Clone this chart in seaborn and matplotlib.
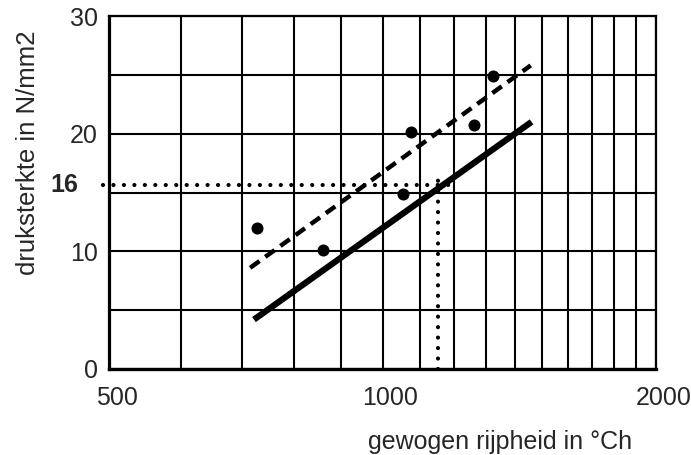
import matplotlib
matplotlib.use("Agg")
import matplotlib.pyplot as plt
import matplotlib.transforms as mtransforms
from matplotlib.ticker import FixedLocator, NullFormatter
import numpy as np
import pandas as pd
import seaborn as sns

# ---- data ----
meas_x = [727, 861, 1054, 1076, 1261, 1322]
meas_y = [12.0, 10.1, 14.9, 20.1, 20.7, 24.9]

dashed_x = [715, 1456]
dashed_y = [8.6, 25.8]

solid_x = [722, 1459]
solid_y = [4.2, 21.0]

ref_h_x = [492, 1186]
ref_h_y = [15.6, 15.6]
ref_v_x = [1151, 1151]
ref_v_y = [0.0, 16.1]
ref_label = "16"

x_major = [500, 1000, 2000]
x_minor = list(range(600, 2000, 100))
y_major = [0, 10, 20, 30]
y_minor = [5, 15, 25]

x_title = "gewogen rijpheid in °Ch"
y_title = "druksterkte in N/mm2"

# ---- figure ----
sns.set_style("white")
plt.rcParams["font.family"] = ["Liberation Sans", "DejaVu Sans"]

fig = plt.figure(figsize=(6.91, 4.55), dpi=100)
ax = fig.add_axes([109 / 691, 1 - 369 / 455, (656 - 109) / 691, (369 - 16) / 455])

ax.set_xscale("log")
ax.set_xlim(500, 2000)
ax.set_ylim(0, 30)

ax.xaxis.set_major_locator(FixedLocator(x_major))
ax.xaxis.set_minor_locator(FixedLocator(x_minor))
ax.set_xticklabels([str(v) for v in x_major])
ax.xaxis.set_minor_formatter(NullFormatter())
ax.yaxis.set_major_locator(FixedLocator(y_major))
ax.yaxis.set_minor_locator(FixedLocator(y_minor))
ax.set_yticklabels([str(v) for v in y_major])

ax.grid(True, which="both", color="black", linewidth=1.5)
ax.set_axisbelow(True)
ax.tick_params(which="both", length=0)
ax.tick_params(axis="x", labelsize=18, pad=12)
ax.tick_params(axis="y", labelsize=18, pad=8)
for sp in ax.spines.values():
    sp.set_color("black")
    sp.set_linewidth(1.6)
    sp.set_zorder(5)
ax.spines["left"].set_linewidth(2.3)
ax.spines["bottom"].set_linewidth(2.4)

# shift x tick labels slightly right as in reference
offset = mtransforms.ScaledTranslation(8 / 100, 0, fig.dpi_scale_trans)
for lab in ax.get_xticklabels():
    lab.set_transform(lab.get_transform() + offset)

line_kw = dict(ax=ax, color="black", estimator=None, sort=False)

# reference dotted lines
sns.lineplot(x=ref_h_x, y=ref_h_y, linewidth=3,
             linestyle=(0, (0.01, 2.5)), dash_capstyle="round", **line_kw)
ax.lines[-1].set_clip_on(False)
ax.lines[-1].set_zorder(6)
sns.lineplot(x=ref_v_x, y=ref_v_y, linewidth=3,
             linestyle=(0, (0.01, 2.5)), dash_capstyle="round", **line_kw)
ax.lines[-1].set_zorder(6)

# fitted lines
sns.lineplot(x=dashed_x, y=dashed_y, linewidth=3.2,
             linestyle=(0, (2.6, 1.6)), dash_capstyle="butt", **line_kw)
ax.lines[-1].set_zorder(6)
sns.lineplot(x=solid_x, y=solid_y, linewidth=4.5,
             solid_capstyle="butt", **line_kw)
ax.lines[-1].set_zorder(6)

# measurements
sns.scatterplot(x=meas_x, y=meas_y, ax=ax, color="black", s=75,
                edgecolor="black", linewidth=0, zorder=7)

ax.set_xlabel("")
ax.set_ylabel("")

# "16" label
ax.text(-0.057, ref_h_y[0], ref_label, transform=ax.get_yaxis_transform(),
        ha="right", va="center", fontsize=18, fontweight="bold",
        family=["Liberation Sans Narrow", "Liberation Sans", "DejaVu Sans"])

fig.text(500 / 691, 1 - 449 / 455, x_title, ha="center", va="baseline", fontsize=18)
fig.text(35 / 691, 1 - 153 / 455, y_title, ha="center", va="baseline",
         rotation=90, rotation_mode="anchor", fontsize=18.5)

fig.savefig("out.png", dpi=100, facecolor="white")
